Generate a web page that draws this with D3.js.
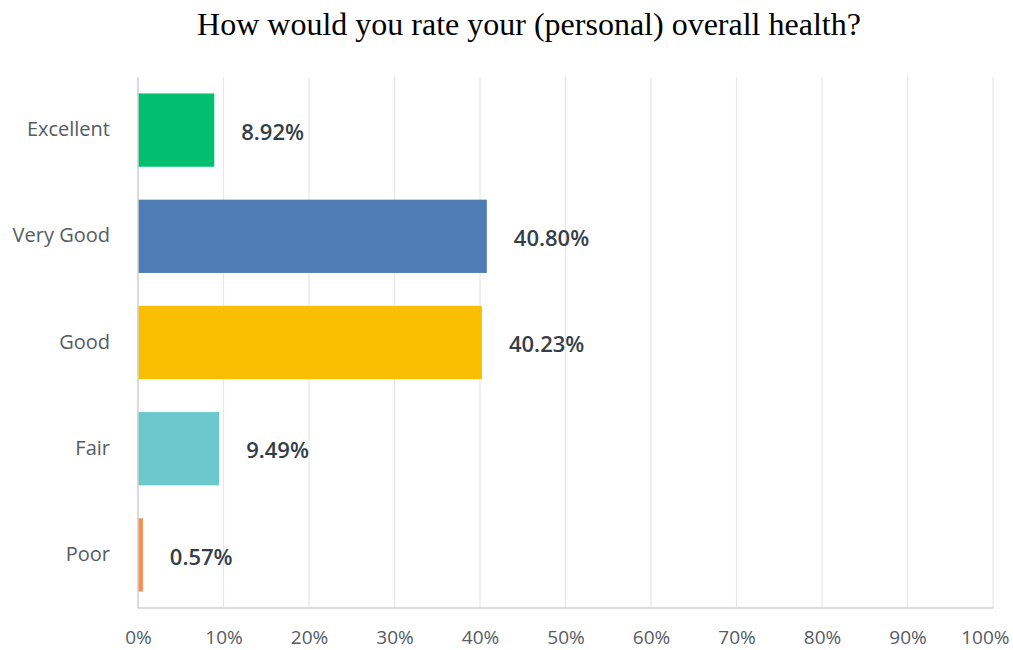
<!DOCTYPE html>
<html>
<head>
<meta charset="utf-8">
<script src="https://cdn.jsdelivr.net/npm/d3@7"></script>
<style>
  html, body { margin: 0; padding: 0; background: #fff; }
  svg { display: block; }
</style>
</head>
<body>
<svg id="chart" width="1013" height="650"></svg>
<script>
// Survey answers and their share of respondents (percent)
const categories = ["Excellent", "Very Good", "Good", "Fair", "Poor"];
const values = [8.92, 40.80, 40.23, 9.49, 0.57];
const barColors = ["#00bf6f", "#507cb6", "#f9be00", "#6bc8cd", "#ff8b4f"];
const tickValues = [0, 10, 20, 30, 40, 50, 60, 70, 80, 90, 100];
const title = "How would you rate your (personal) overall health?";

const svg = d3.select("#chart");
const plotTop = 77, plotBottom = 608;

const x = d3.scaleLinear().domain([0, 100]).range([138, 993]);
const y = d3.scaleBand().domain(categories)
  .range([plotTop, plotBottom])
  .paddingInner(0.31).paddingOuter(0.155);

// Title
svg.append("text")
  .attr("x", 529).attr("y", 35)
  .attr("text-anchor", "middle")
  .attr("font-family", "'Liberation Serif', 'Times New Roman', serif")
  .attr("font-size", 32)
  .attr("fill", "#000")
  .text(title);

// Vertical gridlines
svg.append("g").selectAll("line")
  .data(tickValues.slice(1))
  .join("line")
  .attr("x1", d => x(d)).attr("x2", d => x(d))
  .attr("y1", plotTop).attr("y2", plotBottom)
  .attr("stroke", "#e6e6e6").attr("stroke-width", 1.2);

// Bars
svg.append("g").selectAll("rect")
  .data(categories)
  .join("rect")
  .attr("x", x(0))
  .attr("y", d => y(d))
  .attr("width", (d, i) => x(values[i]) - x(0))
  .attr("height", y.bandwidth())
  .attr("fill", (d, i) => barColors[i]);

// Axis lines (left and bottom)
svg.append("line")
  .attr("x1", x(0)).attr("x2", x(0)).attr("y1", plotTop).attr("y2", plotBottom)
  .attr("stroke", "#cfcfcf").attr("stroke-width", 1.5);
svg.append("line")
  .attr("x1", x(0)).attr("x2", x(100)).attr("y1", plotBottom).attr("y2", plotBottom)
  .attr("stroke", "#cfcfcf").attr("stroke-width", 1.5);

// Category labels
svg.append("g").selectAll("text")
  .data(categories)
  .join("text")
  .attr("x", 110)
  .attr("y", d => y(d) + y.bandwidth() / 2 - 1)
  .attr("dy", "0.35em")
  .attr("text-anchor", "end")
  .attr("font-family", "'Open Sans', sans-serif")
  .attr("font-size", 20)
  .attr("fill", "#555c63")
  .text(d => d);

// Value labels
svg.append("g").selectAll("text")
  .data(categories)
  .join("text")
  .attr("x", (d, i) => x(values[i]) + 27)
  .attr("y", d => y(d) + y.bandwidth() / 2 + 2)
  .attr("dy", "0.35em")
  .attr("font-family", "'Open Sans', sans-serif")
  .attr("font-weight", 600)
  .attr("font-size", 22)
  .attr("fill", "#333e48")
  .text((d, i) => values[i].toFixed(2) + "%");

// X tick labels
const xAxis = d3.axisBottom(x)
  .tickValues(tickValues)
  .tickFormat(d => d + "%")
  .tickSize(0)
  .tickPadding(23);
const gx = svg.append("g")
  .attr("transform", `translate(0,${plotBottom})`)
  .call(xAxis);
gx.select(".domain").remove();
gx.selectAll("text")
  .attr("font-family", "'Open Sans', sans-serif")
  .attr("font-size", 19)
  .attr("fill", "#555c63");
// keep the last tick label inside the page
gx.selectAll(".tick").filter(d => d === 100).select("text")
  .attr("text-anchor", "end")
  .attr("dx", 16);
</script>
</body>
</html>
